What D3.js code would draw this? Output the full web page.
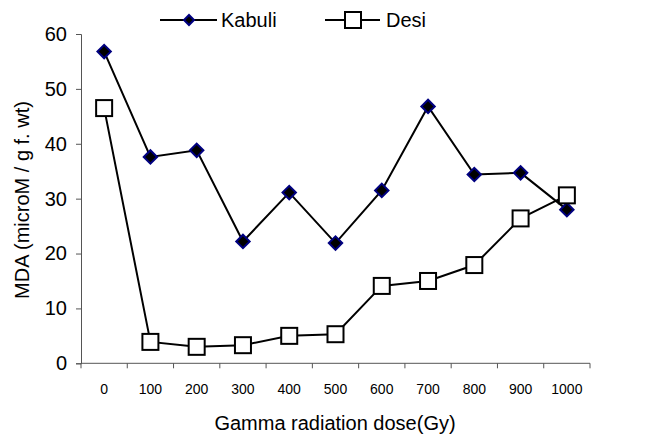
<!DOCTYPE html>
<html>
<head>
<meta charset="utf-8">
<script src="https://cdn.jsdelivr.net/npm/d3@7"></script>
<style>
body { margin: 0; background: #fff; }
text { font-family: "Liberation Sans", Arial, sans-serif; fill: #000; }
.axis path, .axis line { stroke: #555; }
</style>
</head>
<body>
<div id="chart"></div>
<script>
var doses = ["0", "100", "200", "300", "400", "500", "600", "700", "800", "900", "1000"];
var kabuli = [56.8, 37.6, 38.8, 22.2, 31.1, 21.9, 31.5, 46.8, 34.4, 34.7, 28.0];
var desi = [46.5, 3.9, 3.0, 3.3, 5.0, 5.3, 14.1, 15.0, 17.9, 26.4, 30.6];
var yTicks = [0, 10, 20, 30, 40, 50, 60];

var W = 648, H = 439;
var margin = { top: 34, right: 58, bottom: 75.7, left: 81 };
var width = W - margin.left - margin.right,
    height = H - margin.top - margin.bottom;

var svg = d3.select("#chart").append("svg")
    .attr("width", W).attr("height", H);
var g = svg.append("g")
    .attr("transform", "translate(" + margin.left + "," + margin.top + ")");

var x = d3.scaleBand().domain(doses).range([0, width]).padding(0);
var y = d3.scaleLinear().domain([0, 60]).range([height, 0]);

// y axis
var yAxis = g.append("g").attr("class", "axis")
    .call(d3.axisLeft(y).tickValues(yTicks).tickSize(5).tickPadding(9));
yAxis.selectAll("text").style("font-size", "20px");

// x axis: line with tick marks at category boundaries
var xAxis = g.append("g").attr("class", "axis")
    .attr("transform", "translate(0," + height + ")");
xAxis.append("line").attr("x1", 0).attr("x2", width).attr("y1", 0).attr("y2", 0);
var bounds = doses.map(function(d) { return x(d); }).concat([width]);
xAxis.selectAll(".tk").data(bounds).enter().append("line")
    .attr("class", "tk")
    .attr("x1", function(d) { return d; }).attr("x2", function(d) { return d; })
    .attr("y1", 0).attr("y2", 5);
xAxis.selectAll(".lbl").data(doses).enter().append("text")
    .attr("class", "lbl")
    .attr("x", function(d) { return x(d) + x.bandwidth() / 2; })
    .attr("y", 31)
    .attr("text-anchor", "middle")
    .style("font-size", "14px")
    .text(function(d) { return d; });

// axis titles
svg.append("text")
    .attr("x", 335).attr("y", 430)
    .attr("text-anchor", "middle").style("font-size", "20px")
    .text("Gamma radiation dose(Gy)");
svg.append("text")
    .attr("text-anchor", "middle").style("font-size", "20px")
    .attr("transform", "translate(29,200)rotate(-90)")
    .text("MDA (microM / g f. wt)");

var cx = function(d, i) { return x(doses[i]) + x.bandwidth() / 2; };
var line = d3.line().x(cx).y(function(d) { return y(d); });

g.append("path").datum(kabuli).attr("d", line)
    .attr("fill", "none").attr("stroke", "#000").attr("stroke-width", 2);
g.append("path").datum(desi).attr("d", line)
    .attr("fill", "none").attr("stroke", "#000").attr("stroke-width", 2);

g.selectAll(".kab").data(kabuli).enter().append("path")
    .attr("class", "kab")
    .attr("d", d3.symbol().type(d3.symbolSquare).size(90))
    .attr("transform", function(d, i) { return "translate(" + cx(d, i) + "," + y(d) + ")rotate(45)"; })
    .attr("fill", "#000").attr("stroke", "#000080").attr("stroke-width", 2);

g.selectAll(".des").data(desi).enter().append("rect")
    .attr("class", "des")
    .attr("x", function(d, i) { return cx(d, i) - 8; })
    .attr("y", function(d) { return y(d) - 8; })
    .attr("width", 16).attr("height", 16)
    .attr("fill", "#fff").attr("stroke", "#000").attr("stroke-width", 2);

// legend
var leg = svg.append("g").attr("transform", "translate(0,20)");
leg.append("line").attr("x1", 160).attr("x2", 217).attr("y1", 0).attr("y2", 0)
    .attr("stroke", "#000").attr("stroke-width", 2);
leg.append("path").attr("d", d3.symbol().type(d3.symbolSquare).size(50))
    .attr("transform", "translate(189,0)rotate(45)")
    .attr("fill", "#000").attr("stroke", "#000080").attr("stroke-width", 2);
leg.append("text").attr("x", 221).attr("y", 7).style("font-size", "20px").text("Kabuli");
leg.append("line").attr("x1", 325).attr("x2", 380).attr("y1", 0).attr("y2", 0)
    .attr("stroke", "#000").attr("stroke-width", 2);
leg.append("rect").attr("x", 345).attr("y", -8).attr("width", 16).attr("height", 16)
    .attr("fill", "#fff").attr("stroke", "#000").attr("stroke-width", 2);
leg.append("text").attr("x", 386).attr("y", 7).style("font-size", "20px").text("Desi");
</script>
</body>
</html>
